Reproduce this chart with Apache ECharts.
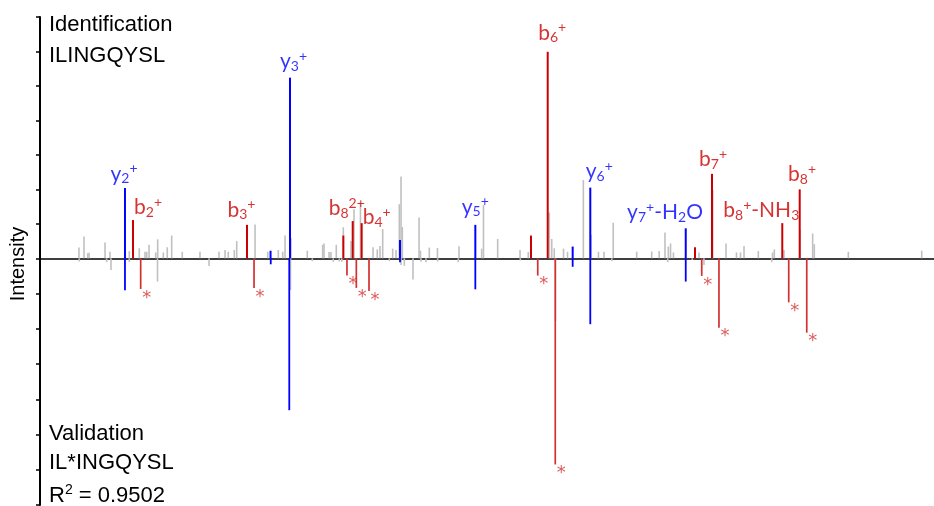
<!DOCTYPE html>
<html><head><meta charset="utf-8">
<script src="https://cdn.jsdelivr.net/npm/echarts@6/dist/echarts.min.js"></script>
<style>html,body{margin:0;padding:0;background:#fff}#c{width:934px;height:506px}</style>
</head><body><div id="c"></div>
<script>
// ---------- DATA (m/z, relative intensity) ----------
// Identification spectrum (top, positive)
const idGray = [[173.7,0.31],[178.7,0.63],[182.4,0.15],[183.7,0.16],[199.6,0.46],[204.5,0.19],[223.7,0.21],[233.6,0.29],[239.3,0.19],[241.0,0.19],[243.3,0.39],[249.9,0.17],[251.9,0.55],[257.5,0.17],[261.4,0.32],[265.8,0.66],[276.3,0.19],[293.9,0.19],[312.8,0.19],[318.8,0.24],[322.0,0.19],[328.0,0.24],[330.4,0.5],[348.6,0.98],[361.2,0.19],[371.7,0.24],[376.1,0.19],[378.4,0.66],[384.3,0.58],[400.5,0.22],[415.8,0.39],[417.1,0.43],[422.1,0.18],[424.0,0.18],[429.3,0.39],[436.3,0.9],[443.9,0.5],[446.9,1.42],[453.3,1.62],[465.8,0.32],[470.0,0.26],[472.7,0.36],[475.4,0.85],[485.3,0.28],[488.6,0.24],[491.9,1.57],[493.6,2.37],[494.9,0.91],[511.5,1.18],[512.9,0.22],[521.7,0.31],[529.8,0.3],[551.2,0.35],[573.7,0.28],[575.5,1.55],[589.6,0.56],[611.8,0.24],[620.0,0.18],[640.9,1.33],[643.3,0.56],[645.8,0.29],[655.0,0.28],[659.0,0.19],[674.7,2.27],[682.3,0.68],[689.7,0.19],[695.2,0.19],[704.4,1.03],[727.7,0.19],[742.6,0.2],[750.0,0.21],[755.8,0.75],[759.1,0.34],[761.3,0.43],[764.2,0.17],[789.6,0.17],[803.2,1.98],[816.4,0.43],[826.8,0.17],[830.8,0.17],[834.3,0.36],[848.5,0.21],[862.6,0.17],[864.4,0.26],[874.0,0.24],[889.9,0.82],[902.5,0.72],[904.1,0.41],[937.9,0.19],[1010.8,0.22]];
const idY = [[219.4,2.04],[364.0,0.22],[383.3,5.24],[492.6,0.53],[567.4,0.97],[664.1,0.34],[681.6,2.05],[776.4,0.87]];
const idB = [[227.4,1.11],[340.6,0.97],[436.3,0.66],[445.6,1.08],[454.5,1.02],[622.7,0.66],[639.3,5.99],[785.6,0.32],[802.5,2.45],[872.3,1.02],[889.6,2.0]];
// Validation spectrum (bottom, mirrored as negative)
const valGray = [[174.0,-0.09],[201.2,-0.11],[205.5,-0.33],[223.7,-0.11],[251.7,-0.66],[302.9,-0.22],[383.8,-0.9],[405.5,-0.08],[426.3,-0.1],[432.3,-0.09],[434.7,-0.1],[482.0,-0.08],[493.6,-0.19],[496.9,-0.21],[505.5,-0.6],[513.4,-0.1],[518.4,-0.11],[530.0,-0.09],[550.5,-0.11],[612.1,-0.06],[647.0,-1.78],[702.9,-0.08],[758.5,-0.11],[782.9,-0.05],[794.5,-0.19],[861.8,-0.11]];
const valY = [[219.4,-0.91],[364.2,-0.17],[382.6,-4.31],[492.6,-0.11],[567.4,-0.88],[664.1,-0.24],[681.6,-1.87],[776.4,-0.66]];
const valB = [[235.0,-0.87],[347.6,-0.84],[439.9,-0.49],[449.2,-0.84],[461.8,-0.93],[629.4,-0.49],[646.8,-5.85],[792.3,-0.5],[809.4,-1.97],[878.7,-1.25],[896.6,-2.11]];
// Ion annotations (top spectrum)
const ionNames = ['y2+','b2+','b3+','y3+','b8 2+','b4+','y5+','b6+','y6+','y7+-H2O','b7+','b8+-NH3','b8+'];
const ionMz    = [219.4,227.4,340.6,383.3,445.6,454.5,567.4,639.3,681.6,776.4,802.5,872.3,889.6];
const ionInt   = [2.04,1.11,0.97,5.24,1.08,1.02,0.97,5.99,2.05,0.87,2.45,1.02,2.0];
const ionRich  = ['{m|y}{s|2}{p|+}','{m|b}{s|2}{p|+}','{m|b}{s|3}{p|+}','{m|y}{s|3}{p|+}','{m|b}{s|8}{p|2+}','{m|b}{s|4}{p|+}','{m|y}{s|5}{p|+}','{m|b}{s|6}{p|+}','{m|y}{s|6}{p|+}','{m|y}{s|7}{p|+}{m|-H}{s|2}{m|O}','{m|b}{s|7}{p|+}','{m|b}{s|8}{p|+}{m|-NH}{s|3}','{m|b}{s|8}{p|+}'];
// Text
const idTitle = ['Identification','ILINGQYSL'];
const valTitle = ['Validation','IL*INGQYSL'];
const r2Text = '{t|R}{u|2}{t| = 0.9502}';

// ---------- STYLE ----------
const BLUE = '#0000ff', RED = '#cc0000', RED2 = '#d43030', GRAY = '#c0c0c0';
const ionOffsets = [[-1,-2],[15,-1],[-5.5,-3],[3.5,-4],[-6,-1],[15,6],[0,-6],[4.5,-7],[9,-4],[-20.7,-4],[1,-2.5],[-21,-1],[2.3,-3]];
const LFONT = 'Lato';

function stick(color, width) {
  return function (params, api) {
    const x = api.value(0), y = api.value(1);
    const p0 = api.coord([x, 0]), p1 = api.coord([x, y]);
    return {type: 'line', shape: {x1: p0[0], y1: p0[1], x2: p1[0], y2: p1[1]},
            style: {stroke: color, lineWidth: width}};
  };
}
function stickSeries(data, grid, color, width, z) {
  return {type: 'custom', xAxisIndex: grid, yAxisIndex: grid, data: data, z: z,
          encode: {x: 0, y: 1}, renderItem: stick(color, width), silent: true, clip: false};
}
const rich = function (color) {
  return {
    m: {fontFamily: LFONT, fontSize: 21, lineHeight: 24, color: color},
    s: {fontFamily: LFONT, fontSize: 14, lineHeight: 13, verticalAlign: 'bottom', color: color},
    p: {fontFamily: LFONT, fontSize: 14, lineHeight: 13, verticalAlign: 'top', color: color}
  };
};

const labelData = ionNames.map(function (n, i) {
  const col = n.charAt(0) === 'y' ? BLUE : RED;
  return {value: [ionMz[i], ionInt[i]], name: n,
    label: {show: true, position: 'top', distance: 0, offset: ionOffsets[i],
      formatter: ionRich[i], rich: rich(col)}};
});
const starData = valB.map(function (d) {
  return {value: d, label: {show: true, position: 'bottom', distance: 0, offset: [6, -1],
    formatter: '*', fontFamily: 'DejaVu Sans', fontSize: 18, lineHeight: 20, color: RED2}};
});

const GTOP = 17, GMID = 258.3, GBOT = 505;
const xCommon = {type: 'value', min: 135, max: 1023, axisLabel: {show: false},
  axisTick: {show: false}, splitLine: {show: false}};
const yCommon = {type: 'value', interval: 1, axisLabel: {show: false}, splitLine: {show: false},
  axisLine: {show: true, lineStyle: {color: '#000', width: 2}},
  axisTick: {show: true, length: 4, inside: false, lineStyle: {color: '#000', width: 1.5}}};

const textStyle = function (t, y) {
  return {type: 'text', left: 49, top: y, silent: true,
    style: {text: t, fontFamily: 'Liberation Sans', fontSize: 22, fill: '#000'}};
};

const option = {
  animation: false,
  backgroundColor: '#fff',
  grid: [
    {left: 40, right: 0, top: GTOP, height: GMID - GTOP},
    {left: 40, right: 0, top: GMID, height: GBOT - GMID}
  ],
  xAxis: [
    Object.assign({}, xCommon, {gridIndex: 0, position: 'bottom',
      axisLine: {show: true, onZero: false, lineStyle: {color: '#000', width: 1.5}}}),
    Object.assign({}, xCommon, {gridIndex: 1, axisLine: {show: false}})
  ],
  yAxis: [
    Object.assign({}, yCommon, {gridIndex: 0, min: 0, max: 7}),
    Object.assign({}, yCommon, {gridIndex: 1, min: -7, max: 0})
  ],
  series: [
    stickSeries(idGray, 0, GRAY, 1.6, 1),
    stickSeries(valGray, 1, GRAY, 1.6, 1),
    stickSeries(idY, 0, BLUE, 2, 2),
    stickSeries(idB, 0, RED, 2, 2),
    stickSeries(valY, 1, BLUE, 1.8, 2),
    stickSeries(valB, 1, RED2, 1.7, 2),
    {type: 'scatter', xAxisIndex: 0, yAxisIndex: 0, symbolSize: 0, data: labelData, z: 5, silent: true},
    {type: 'scatter', xAxisIndex: 1, yAxisIndex: 1, symbolSize: 0, data: starData, z: 5, silent: true}
  ],
  graphic: [
    textStyle(idTitle[0], 13.5),
    textStyle(idTitle[1], 44.5),
    textStyle(valTitle[0], 422.5),
    textStyle(valTitle[1], 451.5),
    {type: 'text', left: 49, top: 483, silent: true,
      style: {text: r2Text, fill: '#000', rich: {
        t: {fontFamily: 'Liberation Sans', fontSize: 22, lineHeight: 26, fill: '#000', color: '#000'},
        u: {fontFamily: 'Liberation Sans', fontSize: 14, lineHeight: 14, verticalAlign: 'top', fill: '#000', color: '#000'}
      }}},
    {type: 'text', x: 18, y: 264, rotation: Math.PI / 2, silent: true,
      style: {text: 'Intensity', fontFamily: 'Liberation Sans', fontSize: 20, fill: '#000',
        align: 'center', verticalAlign: 'middle'}}
  ]
};
const chart = echarts.init(document.getElementById('c'), null, {renderer: 'canvas'});
chart.setOption(option);
</script></body></html>
